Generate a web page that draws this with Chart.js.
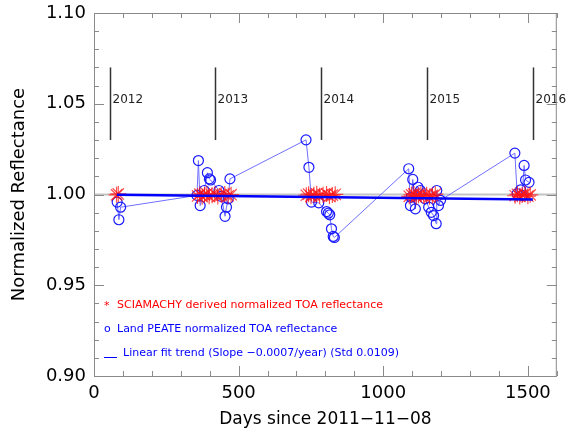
<!DOCTYPE html>
<html>
<head>
<meta charset="utf-8">
<script src="https://cdn.jsdelivr.net/npm/chart.js@4/dist/chart.umd.min.js"></script>
<style>
  html, body { margin: 0; background: #fff; }
</style>
</head>
<body>
<canvas id="c" width="566" height="434"></canvas>
<script>
// Land PEATE normalized TOA reflectance (blue circles, joined in time order)
const PEATE_DAYS = [80, 86, 92,
  356, 361, 367, 381, 392, 399, 403, 432, 440, 453, 458, 464, 470,
  733, 743, 752, 777, 804, 810, 815, 821, 827, 831,
  1088, 1094, 1097, 1102, 1111, 1120, 1128, 1145, 1157, 1166, 1174, 1183, 1185, 1191, 1198,
  1455, 1463, 1475, 1480, 1487, 1492, 1504];
const PEATE_VALUES = [0.9958, 0.9861, 0.9930,
  0.9995, 1.0187, 0.9939, 1.0022, 1.0120, 1.0086, 1.0080, 1.0022, 0.9990, 0.9880, 0.9930, 0.9976, 1.0086,
  1.0301, 1.0150, 0.9958, 0.9954, 0.9906, 0.9897, 0.9888, 0.9811, 0.9769, 0.9763,
  1.0142, 0.9939, 0.9985, 1.0083, 0.9921, 1.0040, 1.0022, 0.9976, 0.9930, 0.9902, 0.9884, 0.9839, 1.0022, 0.9939, 0.9968,
  1.0228, 1.0004, 1.0026, 0.9995, 1.0160, 1.0080, 1.0067];

// SCIAMACHY derived normalized TOA reflectance (red asterisks)
const SCIA_DAYS = [78, 84,
  358, 366, 374, 382, 390, 398, 408, 418, 428, 440, 452, 464, 474,
  734, 742, 750, 760, 770, 780, 792, 804, 814, 824, 834,
  1090, 1098, 1106, 1114, 1122, 1130, 1140, 1150, 1160, 1170, 1180,
  1456, 1464, 1472, 1480, 1490, 1500, 1508];
const SCIA_VALUES = [0.9998, 1.0003,
  0.9992, 1.0002, 0.9988, 0.9998, 1.0004, 0.9990, 0.9996, 1.0001, 0.9989, 0.9997, 1.0003, 0.9993, 0.9999,
  0.9996, 1.0002, 0.9990, 0.9998, 1.0004, 0.9993, 0.9999, 1.0003, 0.9991, 0.9997, 1.0001,
  0.9990, 0.9998, 1.0003, 0.9988, 0.9996, 1.0001, 0.9992, 0.9999, 0.9987, 0.9995, 1.0002,
  0.9993, 1.0001, 0.9989, 0.9997, 1.0003, 0.9991, 0.9998];

// linear fit trend
const TREND_DAYS = [79, 1517];
const TREND_VALUES = [0.9999, 0.9973];

// reference line at 1.00
const REF_DAYS = [0, 1600];
const REF_VALUES = [1.0, 1.0];

// year markers
const YEAR_DAYS = [54, 420, 785, 1150, 1516];
const YEAR_LABELS = ['2012', '2013', '2014', '2015', '2016'];
const YEAR_SPAN = [1.03, 1.07];

const X_TICKS = [0, 500, 1000, 1500];
const Y_TICKS = [0.90, 0.95, 1.00, 1.05, 1.10];

const FONT = "'DejaVu Sans', sans-serif";

const pts = (xs, ys) => xs.map((x, i) => ({ x, y: ys[i] }));

// box with inward ticks, year markers and the in-plot legend
const decorations = {
  id: 'decorations',
  afterDatasetsDraw(chart) {
    const { ctx, chartArea: a, scales: { x, y } } = chart;
    ctx.save();

    // year markers
    ctx.strokeStyle = '#333';
    ctx.lineWidth = 1.5;
    ctx.fillStyle = '#222';
    ctx.font = '12px ' + FONT;
    ctx.textBaseline = 'middle';
    YEAR_DAYS.forEach((d, i) => {
      const px = Math.round(x.getPixelForValue(d)) + 0.5;
      ctx.beginPath();
      ctx.moveTo(px, y.getPixelForValue(YEAR_SPAN[0]));
      ctx.lineTo(px, y.getPixelForValue(YEAR_SPAN[1]));
      ctx.stroke();
      ctx.fillText(YEAR_LABELS[i], px + 2, y.getPixelForValue(1.052));
    });

    // frame + ticks
    ctx.strokeStyle = '#8a8a8a';
    ctx.lineWidth = 1;
    ctx.strokeRect(a.left + 0.5, a.top + 0.5, a.right - a.left - 1, a.bottom - a.top);
    const seg = (x1, y1, x2, y2) => { ctx.beginPath(); ctx.moveTo(x1, y1); ctx.lineTo(x2, y2); ctx.stroke(); };
    for (let v = 90; v <= 110; v++) {
      const py = Math.round(y.getPixelForValue(v / 100)) + 0.5;
      const len = v % 5 === 0 ? 10 : 5;
      seg(a.left, py, a.left + len, py);
      seg(a.right, py, a.right - len, py);
    }
    for (let d = 0; d <= 1600; d += 100) {
      const px = Math.round(x.getPixelForValue(d)) + 0.5;
      const len = d % 500 === 0 ? 10 : 5;
      seg(px, a.bottom, px, a.bottom - len);
      seg(px, a.top, px, a.top + len);
    }

    // legend
    ctx.font = '11px ' + FONT;
    ctx.textBaseline = 'middle';
    const lx = a.left + 10, tx = a.left + 23;
    ctx.fillStyle = '#ff0000';
    ctx.fillText('*', lx, a.top + 293);
    ctx.fillText('SCIAMACHY derived normalized TOA reflectance', tx, a.top + 292);
    ctx.fillStyle = '#0000ff';
    ctx.fillText('o', lx, a.top + 316);
    ctx.fillText('Land PEATE normalized TOA reflectance', tx, a.top + 316);
    ctx.strokeStyle = '#0000ff';
    seg(lx, a.top + 344.5, lx + 13, a.top + 344.5);
    ctx.fillText('Linear fit trend (Slope \u22120.0007/year) (Std 0.0109)', tx + 6, a.top + 340);

    ctx.restore();
  }
};

new Chart(document.getElementById('c'), {
  type: 'scatter',
  data: {
    datasets: [
      {
        label: 'Linear fit trend',
        data: pts(TREND_DAYS, TREND_VALUES),
        showLine: true, borderColor: '#0000ff', borderWidth: 2.5,
        pointRadius: 0, order: 0
      },
      {
        label: 'SCIAMACHY',
        data: pts(SCIA_DAYS, SCIA_VALUES),
        pointStyle: 'star', pointRadius: 8, borderWidth: 1.2,
        borderColor: 'rgba(255,20,20,0.75)', backgroundColor: 'rgba(0,0,0,0)', order: 1
      },
      {
        label: 'Land PEATE',
        data: pts(PEATE_DAYS, PEATE_VALUES),
        showLine: true, borderColor: '#6f6fff', borderWidth: 1,
        pointStyle: 'circle', pointRadius: 5, pointBorderWidth: 1.2,
        pointBorderColor: '#1a1aff', pointBackgroundColor: 'rgba(0,0,0,0)', order: 2
      },
      {
        label: 'ref',
        data: pts(REF_DAYS, REF_VALUES),
        showLine: true, borderColor: '#c4c4c4', borderWidth: 2,
        pointRadius: 0, order: 3
      }
    ]
  },
  options: {
    responsive: false,
    animation: false,
    events: [],
    layout: { padding: { top: 13, right: 6, left: 0, bottom: 0 } },
    plugins: { legend: { display: false }, tooltip: { enabled: false } },
    scales: {
      x: {
        type: 'linear', min: 0, max: 1600,
        afterBuildTicks: s => { s.ticks = X_TICKS.map(value => ({ value })); },
        afterFit: s => { s.height = 58; s.paddingLeft = 0; s.paddingRight = 0; },
        grid: { display: false, drawTicks: false },
        border: { display: false },
        ticks: { color: '#000', padding: 7, font: { family: FONT, size: 18 }, maxRotation: 0,
                 callback: v => String(v) },
        title: { display: true, text: 'Days since 2011\u221211\u221208', color: '#000',
                 font: { family: FONT, size: 17 }, padding: { top: 0, bottom: 4 } }
      },
      y: {
        type: 'linear', min: 0.9, max: 1.1,
        afterBuildTicks: s => { s.ticks = Y_TICKS.map(value => ({ value })); },
        afterFit: s => { s.width = 94; s.paddingTop = 0; s.paddingBottom = 0; },
        grid: { display: false, drawTicks: false },
        border: { display: false },
        ticks: { color: '#000', padding: 8, font: { family: FONT, size: 18 },
                 callback: v => v.toFixed(2) },
        title: { display: true, text: 'Normalized Reflectance', color: '#000',
                 font: { family: FONT, size: 18 }, padding: { top: 9, bottom: 0 } }
      }
    }
  },
  plugins: [decorations]
});
</script>
</body>
</html>
